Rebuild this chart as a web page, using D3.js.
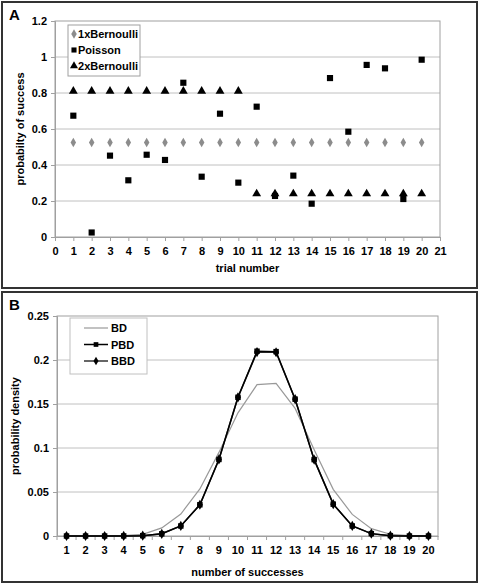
<!DOCTYPE html>
<html><head><meta charset="utf-8">
<script src="https://cdn.jsdelivr.net/npm/d3@7"></script>
<style>
body{margin:0;background:#fff;}
svg{display:block;font-family:"Liberation Sans",Arial,sans-serif;font-weight:bold;}
</style></head><body>
<svg id="c" width="480" height="584"></svg>
<script>
// Panel A data
const trials = d3.range(1, 21);
const bern1 = [0.525,0.525,0.525,0.525,0.525,0.525,0.525,0.525,0.525,0.525,0.525,0.525,0.525,0.525,0.525,0.525,0.525,0.525,0.525,0.525];
const poisson = [0.674,0.025,0.452,0.315,0.457,0.428,0.857,0.335,0.685,0.302,0.724,0.228,0.341,0.185,0.883,0.585,0.956,0.937,0.211,0.985];
const bern2 = [0.81,0.81,0.81,0.81,0.81,0.81,0.81,0.81,0.81,0.81,0.24,0.24,0.24,0.24,0.24,0.24,0.24,0.24,0.24,0.24];
const yTicksA = [0,0.2,0.4,0.6,0.8,1,1.2];
const xTicksA = d3.range(0, 22);
// Panel B data
const successes = d3.range(1, 21);
const BD  = [0,0,0.0001,0.0004,0.0018,0.0092,0.0250,0.0535,0.0950,0.1400,0.1720,0.1735,0.1450,0.0980,0.0530,0.0245,0.0084,0.0020,0.0004,0];
const PBD = [0,0,0,0.0001,0.0004,0.0025,0.0114,0.0355,0.0870,0.1576,0.2100,0.2095,0.1555,0.0868,0.0362,0.0114,0.0027,0.0004,0,0];
const BBD = [0,0,0,0.0001,0.0004,0.0025,0.0114,0.0355,0.0870,0.1576,0.2090,0.2088,0.1555,0.0868,0.0362,0.0114,0.0027,0.0004,0,0];
const yTicksB = [0,0.05,0.1,0.15,0.2,0.25];

const svg = d3.select("#c");
const fmt = d => String(+d.toFixed(2));

// panel frames
svg.append("rect").attr("x",2).attr("y",2).attr("width",475).attr("height",286)
  .attr("fill","none").attr("stroke","#333").attr("stroke-width",2);
svg.append("rect").attr("x",2).attr("y",292).attr("width",475).attr("height",290)
  .attr("fill","none").attr("stroke","#333").attr("stroke-width",2);
svg.append("text").attr("x",9).attr("y",20).attr("font-size",15).text("A");
svg.append("text").attr("x",9).attr("y",310).attr("font-size",15).text("B");

// ---------- Panel A ----------
{
  const L=55,R=440,T=21,B=237;
  const x = d3.scaleLinear().domain([0,21]).range([L,R]);
  const y = d3.scaleLinear().domain([0,1.2]).range([B,T]);
  const g = svg.append("g");
  g.selectAll("line.grid").data(yTicksA.slice(1,-1)).join("line")
    .attr("x1",L).attr("x2",R).attr("y1",d=>y(d)).attr("y2",d=>y(d))
    .attr("stroke","#c0c0c0").attr("stroke-width",1);
  g.append("rect").attr("x",L).attr("y",T).attr("width",R-L).attr("height",B-T)
    .attr("fill","none").attr("stroke","#a0a0a0");
  const xa = g.append("g").attr("transform",`translate(0,${B})`)
    .call(d3.axisBottom(x).tickValues(xTicksA).tickFormat(d3.format("d")).tickSize(4).tickPadding(6));
  const ya = g.append("g").attr("transform",`translate(${L},0)`)
    .call(d3.axisLeft(y).tickValues(yTicksA).tickFormat(fmt).tickSize(4).tickPadding(4));
  [xa,ya].forEach(a=>{
    a.select(".domain").attr("stroke","#a0a0a0");
    a.selectAll(".tick line").attr("stroke","#a0a0a0");
    a.selectAll("text").attr("font-size",11).attr("font-weight","bold").attr("fill","#000")
      .attr("font-family","Liberation Sans, Arial, sans-serif");
  });
  g.append("text").attr("x",(L+R)/2).attr("y",272).attr("text-anchor","middle")
    .attr("font-size",11).text("trial number");
  g.append("text").attr("transform",`translate(24,${(T+B)/2}) rotate(-90)`)
    .attr("text-anchor","middle").attr("font-size",11).text("probabilty of success");

  const dia = d3.symbol().type(d3.symbolDiamond).size(26);
  const sq = d3.symbol().type(d3.symbolSquare).size(38);
  const tri = d3.symbol().type(d3.symbolTriangle).size(34);
  g.selectAll("path.b1").data(trials).join("path")
    .attr("transform",(d,i)=>`translate(${x(d)},${y(bern1[i])})`).attr("d",dia).attr("fill","#8c8c8c");
  g.selectAll("path.ps").data(trials).join("path")
    .attr("transform",(d,i)=>`translate(${x(d)},${y(poisson[i])})`).attr("d",sq).attr("fill","#000");
  g.selectAll("path.b2").data(trials).join("path")
    .attr("transform",(d,i)=>`translate(${x(d)},${y(bern2[i])})`).attr("d",tri).attr("fill","#000");

  // legend
  const lg = g.append("g");
  lg.append("rect").attr("x",68).attr("y",25).attr("width",72).attr("height",51)
    .attr("fill","#fff").attr("stroke","#a0a0a0");
  const items = [["1xBernoulli",dia,"#8c8c8c"],["Poisson",d3.symbol().type(d3.symbolSquare).size(26),"#000"],["2xBernoulli",d3.symbol().type(d3.symbolTriangle).size(28),"#000"]];
  items.forEach((it,i)=>{
    const yy = 34 + i*16;
    lg.append("path").attr("transform",`translate(74,${yy})`).attr("d",it[1]).attr("fill",it[2]);
    lg.append("text").attr("x",78).attr("y",yy+4).attr("font-size",11).attr("textLength",i===1?null:60)
      .text(it[0]);
  });
}

// ---------- Panel B ----------
{
  const L=57,R=438,T=316,B=536;
  const x = d3.scaleBand().domain(successes).range([L,R]);
  const xc = d => x(d) + x.bandwidth()/2;
  const y = d3.scaleLinear().domain([0,0.25]).range([B,T]);
  const g = svg.append("g");
  g.selectAll("line.grid").data(yTicksB.slice(1,-1)).join("line")
    .attr("x1",L).attr("x2",R).attr("y1",d=>y(d)).attr("y2",d=>y(d))
    .attr("stroke","#c0c0c0").attr("stroke-width",1);
  g.append("rect").attr("x",L).attr("y",T).attr("width",R-L).attr("height",B-T)
    .attr("fill","none").attr("stroke","#a0a0a0");
  const xa = g.append("g").attr("transform",`translate(0,${B})`)
    .call(d3.axisBottom(x).tickSize(0).tickPadding(10));
  // tick marks between categories
  g.selectAll("line.tk").data(d3.range(0,21)).join("line")
    .attr("x1",d=>L+d*x.step()).attr("x2",d=>L+d*x.step()).attr("y1",B).attr("y2",B+4)
    .attr("stroke","#a0a0a0");
  const ya = g.append("g").attr("transform",`translate(${L},0)`)
    .call(d3.axisLeft(y).tickValues(yTicksB).tickFormat(fmt).tickSize(4).tickPadding(4));
  [xa,ya].forEach(a=>{
    a.select(".domain").attr("stroke","#a0a0a0");
    a.selectAll(".tick line").attr("stroke","#a0a0a0");
    a.selectAll("text").attr("font-size",11).attr("font-weight","bold").attr("fill","#000")
      .attr("font-family","Liberation Sans, Arial, sans-serif");
  });
  g.append("text").attr("x",(L+R)/2).attr("y",576).attr("text-anchor","middle")
    .attr("font-size",11).text("number of successes");
  g.append("text").attr("transform",`translate(19,${(T+B)/2}) rotate(-90)`)
    .attr("text-anchor","middle").attr("font-size",11).text("probability density");

  const line = d3.line().x((d,i)=>xc(successes[i])).y(d=>y(d));
  g.append("path").datum(BD).attr("d",line).attr("fill","none").attr("stroke","#999").attr("stroke-width",1.2);
  g.append("path").datum(BBD).attr("d",line).attr("fill","none").attr("stroke","#333").attr("stroke-width",1.5);
  g.selectAll("path.bb").data(successes).join("path")
    .attr("transform",(d,i)=>`translate(${xc(d)},${y(BBD[i])})`)
    .attr("d",d3.symbol().type(d3.symbolDiamond).size(30)).attr("fill","#000");
  g.append("path").datum(PBD).attr("d",line).attr("fill","none").attr("stroke","#000").attr("stroke-width",1.5);
  g.selectAll("path.pb").data(successes).join("path")
    .attr("transform",(d,i)=>`translate(${xc(d)},${y(PBD[i])})`)
    .attr("d",d3.symbol().type(d3.symbolSquare).size(30)).attr("fill","#000");

  const lg = g.append("g");
  lg.append("rect").attr("x",70).attr("y",318).attr("width",77).attr("height",56)
    .attr("fill","#fff").attr("stroke","#c0c0c0");
  const items = [["BD","#999",null],["PBD","#000",d3.symbolSquare],["BBD","#333",d3.symbolDiamond]];
  items.forEach((it,i)=>{
    const yy = 328 + i*16.5;
    lg.append("line").attr("x1",84).attr("x2",108).attr("y1",yy).attr("y2",yy)
      .attr("stroke",it[1]).attr("stroke-width",it[2]?1.5:1.2);
    if (it[2]) lg.append("path").attr("transform",`translate(96,${yy})`)
      .attr("d",d3.symbol().type(it[2]).size(22)).attr("fill","#000");
    lg.append("text").attr("x",111).attr("y",yy+4).attr("font-size",11).text(it[0]);
  });
}
</script>
</body></html>
